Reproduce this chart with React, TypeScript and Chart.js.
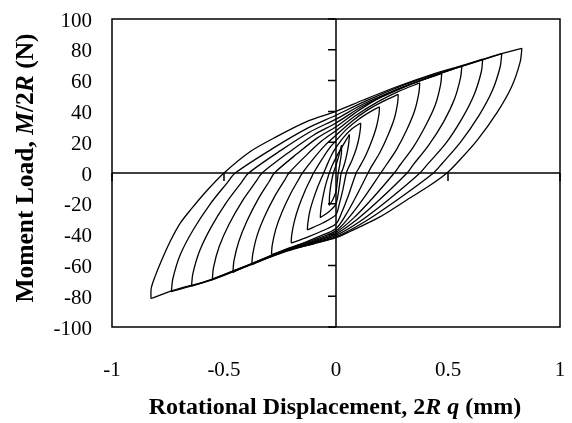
import { useEffect, useRef } from "react";
import { Chart, registerables } from "chart.js";

Chart.register(...registerables);

const FONT = "'Liberation Serif', 'Times New Roman', serif";

const xTicks = [-1, -0.5, 0, 0.5, 1];
const yTicks = [-100, -80, -60, -40, -20, 0, 20, 40, 60, 80, 100];

// Hysteresis loops, outer (1) to inner (11). Each loop: unloading branch (peak -> negative peak)
// and loading branch (negative peak -> peak). Values: [rotational displacement (mm), moment load (N)]
const loop1Unload = [[0.83, 81], [0.822, 72], [0.784, 56], [0.718, 39], [0.629, 21], [0.54, 6.5], [0.495, 0], [0.42, -8], [0.316, -17.5], [0.196, -28.5], [0.062, -38], [0, -42], [-0.1, -46], [-0.22, -50.5], [-0.376, -59], [-0.55, -69], [-0.733, -76.5], [-0.826, -81.5]];
const loop1Load = [[-0.826, -81.5], [-0.825, -75], [-0.808, -67.3], [-0.778, -56.5], [-0.741, -44.6], [-0.696, -32.7], [-0.644, -23], [-0.58, -12], [-0.5, 0], [-0.384, 13.8], [-0.265, 23.6], [-0.131, 33.3], [0, 40], [0.122, 47.4], [0.271, 56], [0.42, 63.6], [0.568, 70], [0.717, 76.6], [0.83, 81]];

const loop2Unload = [[0.74, 77.5], [0.733, 69], [0.698, 53.5], [0.638, 37.2], [0.557, 20.2], [0.474, 6.2], [0.435, 0], [0.274, -17.4], [0.13, -31.5], [0, -41.5], [-0.1, -45.8], [-0.22, -50.8], [-0.376, -59.3], [-0.55, -69.2], [-0.735, -77]];
const loop2Load = [[-0.735, -77], [-0.728, -68.5], [-0.695, -53], [-0.638, -37], [-0.561, -20], [-0.485, -6.2], [-0.45, 0], [-0.284, 15.8], [-0.135, 28.5], [0, 37.5], [0.122, 46], [0.271, 55.3], [0.42, 63], [0.568, 69.5], [0.74, 77.5]];

const loop3Unload = [[0.655, 74], [0.649, 65.9], [0.617, 51], [0.563, 35.5], [0.49, 19.2], [0.41, 5.9], [0.375, 0], [0.237, -17], [0.113, -30.8], [0, -40.5], [-0.1, -45.3], [-0.22, -50.3], [-0.376, -59], [-0.55, -68.8], [-0.645, -73.5]];
const loop3Load = [[-0.645, -73.5], [-0.639, -65.4], [-0.609, -50.7], [-0.558, -35.3], [-0.489, -19.1], [-0.421, -5.9], [-0.39, 0], [-0.246, 14.7], [-0.117, 26.6], [0, 35], [0.122, 44.8], [0.271, 54.2], [0.42, 62.3], [0.545, 68.5], [0.655, 74]];

const loop4Unload = [[0.562, 69.5], [0.556, 61.9], [0.529, 48], [0.481, 33.4], [0.414, 18.1], [0.346, 5.6], [0.317, 0], [0.2, -16.6], [0.095, -30], [0, -39.5], [-0.1, -44.8], [-0.22, -50], [-0.376, -58.8], [-0.552, -69]];
const loop4Load = [[-0.552, -69], [-0.547, -61.4], [-0.521, -47.6], [-0.477, -33.1], [-0.417, -17.9], [-0.357, -5.5], [-0.33, 0], [-0.208, 13.7], [-0.099, 24.7], [0, 32.5], [0.12, 43.5], [0.26, 53], [0.4, 61.2], [0.562, 69.5]];

const loop5Unload = [[0.472, 64.5], [0.467, 57.4], [0.444, 44.5], [0.401, 31], [0.345, 16.8], [0.286, 5.2], [0.26, 0], [0.164, -16.2], [0.078, -29.3], [0, -38.5], [-0.1, -44.3], [-0.22, -49.8], [-0.34, -56.5], [-0.46, -64.5]];
const loop5Load = [[-0.46, -64.5], [-0.456, -57.4], [-0.434, -44.5], [-0.397, -31], [-0.347, -16.8], [-0.297, -5.2], [-0.275, 0], [-0.173, 12.6], [-0.083, 22.8], [0, 30], [0.1, 40.5], [0.2, 49.3], [0.33, 57.6], [0.472, 64.5]];

const loop6Unload = [[0.374, 58.5], [0.37, 52], [0.351, 40.4], [0.316, 28.1], [0.27, 15.2], [0.222, 4.7], [0.2, 0], [0.126, -15.8], [0.06, -28.5], [0, -37.5], [-0.1, -43.5], [-0.22, -49.3], [-0.376, -59.5]];
const loop6Load = [[-0.376, -59.5], [-0.372, -53], [-0.353, -41], [-0.32, -28.6], [-0.275, -15.5], [-0.23, -4.8], [-0.21, 0], [-0.132, 11.6], [-0.063, 20.9], [0, 27.5], [0.09, 37.5], [0.19, 46.5], [0.28, 53], [0.374, 58.5]];

const loop7Unload = [[0.278, 51], [0.275, 45.4], [0.26, 35.2], [0.232, 24.5], [0.196, 13.3], [0.158, 4.1], [0.143, 0], [0.09, -15.1], [0.043, -27.4], [0, -36], [-0.08, -41.5], [-0.18, -47.5], [-0.288, -53]];
const loop7Load = [[-0.288, -53], [-0.285, -47.2], [-0.269, -36.6], [-0.241, -25.4], [-0.204, -13.8], [-0.167, -4.2], [-0.15, 0], [-0.095, 10.3], [-0.045, 18.6], [0, 24.5], [0.07, 33.5], [0.14, 40.8], [0.21, 46.5], [0.278, 51]];

const loop8Unload = [[0.194, 43], [0.192, 38.3], [0.18, 29.7], [0.159, 20.6], [0.132, 11.2], [0.103, 3.4], [0.09, 0], [0.057, -13.9], [0.027, -25.1], [0, -33], [-0.06, -37.5], [-0.13, -41.8], [-0.2, -45.5]];
const loop8Load = [[-0.2, -45.5], [-0.198, -40.5], [-0.186, -31.4], [-0.166, -21.8], [-0.139, -11.8], [-0.112, -3.6], [-0.1, 0], [-0.063, 8.8], [-0.03, 16], [0, 21], [0.05, 28.8], [0.1, 34.8], [0.15, 39.5], [0.194, 43]];

const loop9Unload = [[0.11, 32.5], [0.109, 28.9], [0.102, 22.4], [0.09, 15.6], [0.072, 8.5], [0.053, 2.6], [0.046, 0], [0.03, -11.3], [0.014, -20.5], [0, -27], [-0.06, -32.5], [-0.128, -37]];
const loop9Load = [[-0.128, -37], [-0.126, -33], [-0.118, -25.5], [-0.103, -17.8], [-0.083, -9.6], [-0.064, -3], [-0.055, 0], [-0.035, 6.9], [-0.017, 12.5], [0, 16.5], [0.03, 22.5], [0.07, 28.5], [0.11, 32.5]];

const loop10Unload = [[0.06, 25], [0.059, 22.3], [0.055, 17.3], [0.048, 12], [0.039, 6.5], [0.029, 2], [0.023, 0], [0.015, -8.4], [0, -20], [-0.03, -25], [-0.07, -29]];
const loop10Load = [[-0.07, -29], [-0.069, -25.8], [-0.064, -20], [-0.056, -13.9], [-0.046, -7.5], [-0.035, -2.3], [-0.03, 0], [-0.019, 4.2], [0, 10], [0.025, 16.5], [0.06, 25]];

const loop11Unload = [[0.025, 18], [0.024, 12.4], [0.02, 8.6], [0.016, 4.7], [0.01, 0], [0.006, -5], [0, -12], [-0.015, -17.5], [-0.03, -21]];
const loop11Load = [[-0.03, -21], [-0.029, -15], [-0.025, -10], [-0.02, -5.5], [-0.012, 0], [-0.007, 2.1], [0, 5], [0.012, 11], [0.025, 18]];

const branches = [
  loop1Unload, loop1Load, loop2Unload, loop2Load, loop3Unload, loop3Load,
  loop4Unload, loop4Load, loop5Unload, loop5Load, loop6Unload, loop6Load,
  loop7Unload, loop7Load, loop8Unload, loop8Load, loop9Unload, loop9Load,
  loop10Unload, loop10Load, loop11Unload, loop11Load,
];

type Part = { t: string; style: string };
const xTitleParts: Part[] = [
  { t: "Rotational Displacement, 2", style: "bold" },
  { t: "R", style: "italic bold" },
  { t: " ", style: "bold" },
  { t: "q", style: "italic bold" },
  { t: " (mm)", style: "bold" },
];
const yTitleParts: Part[] = [
  { t: "Moment Load, ", style: "bold" },
  { t: "M", style: "italic bold" },
  { t: "/2", style: "bold" },
  { t: "R", style: "italic bold" },
  { t: " (N)", style: "bold" },
];

function drawParts(ctx: CanvasRenderingContext2D, parts: Part[], size: number) {
  let total = 0;
  const widths = parts.map((p) => {
    ctx.font = `${p.style} ${size}px ${FONT}`;
    const w = ctx.measureText(p.t).width;
    total += w;
    return w;
  });
  let x = -total / 2;
  ctx.textAlign = "left";
  ctx.textBaseline = "alphabetic";
  parts.forEach((p, i) => {
    ctx.font = `${p.style} ${size}px ${FONT}`;
    ctx.fillText(p.t, x, 0);
    x += widths[i];
  });
}

const decorPlugin = {
  id: "decor",
  afterDraw(chart: any) {
    const { ctx, chartArea } = chart;
    const { left, right, top, bottom } = chartArea;
    const xs = chart.scales.x;
    const ys = chart.scales.y;
    ctx.save();
    ctx.strokeStyle = "#000";
    ctx.lineWidth = 1.5;
    ctx.strokeRect(left, top, right - left, bottom - top);
    const x0 = xs.getPixelForValue(0);
    const y0 = ys.getPixelForValue(0);
    ctx.beginPath();
    ctx.moveTo(left, y0);
    ctx.lineTo(right, y0);
    ctx.moveTo(x0, top);
    ctx.lineTo(x0, bottom);
    xTicks.forEach((v) => {
      const px = xs.getPixelForValue(v);
      ctx.moveTo(px, y0);
      ctx.lineTo(px, y0 + 8);
    });
    yTicks.forEach((v) => {
      const py = ys.getPixelForValue(v);
      ctx.moveTo(x0 - 8, py);
      ctx.lineTo(x0, py);
    });
    ctx.stroke();

    ctx.fillStyle = "#000";
    ctx.save();
    ctx.translate(335, 414);
    drawParts(ctx, xTitleParts, 24);
    ctx.restore();

    ctx.save();
    ctx.translate(33, 168);
    ctx.rotate(-Math.PI / 2);
    drawParts(ctx, yTitleParts, 25.5);
    ctx.restore();
    ctx.restore();
  },
};

export default function App() {
  const ref = useRef<HTMLCanvasElement | null>(null);
  useEffect(() => {
    if (!ref.current) return;
    const chart = new Chart(ref.current, {
      type: "scatter",
      data: {
        datasets: branches.map((b) => ({
          data: b.map(([x, y]) => ({ x, y })),
          showLine: true,
          borderColor: "#000",
          borderWidth: 1.3,
          pointRadius: 0,
          tension: 0.3,
          fill: false,
        })),
      },
      options: {
        animation: false,
        responsive: false,
        maintainAspectRatio: false,
        devicePixelRatio: 1,
        layout: { padding: { top: 19, right: 12, left: 0, bottom: 0 } },
        plugins: { legend: { display: false }, tooltip: { enabled: false } },
        scales: {
          x: {
            type: "linear",
            min: -1,
            max: 1,
            grid: { display: false, drawTicks: false },
            border: { display: false },
            ticks: {
              autoSkip: false,
              maxRotation: 0,
              padding: 31,
              color: "#000",
              font: { family: FONT, size: 21 },
              callback: (v: any) => String(v),
            },
            afterBuildTicks: (s: any) => {
              s.ticks = xTicks.map((v) => ({ value: v }));
            },
            afterFit: (s: any) => {
              s.height = 96;
              s.paddingLeft = 0;
              s.paddingRight = 0;
            },
          },
          y: {
            type: "linear",
            min: -100,
            max: 100,
            grid: { display: false, drawTicks: false },
            border: { display: false },
            ticks: {
              autoSkip: false,
              padding: 20,
              labelOffset: 2,
              color: "#000",
              font: { family: FONT, size: 21 },
              callback: (v: any) => String(v),
            },
            afterBuildTicks: (s: any) => {
              s.ticks = yTicks.map((v) => ({ value: v }));
            },
            afterFit: (s: any) => {
              s.width = 112;
              s.paddingTop = 0;
              s.paddingBottom = 0;
            },
          },
        },
      },
      plugins: [decorPlugin],
    });
    return () => chart.destroy();
  }, []);
  return (
    <div style={{ position: "fixed", left: 0, top: 0, width: 572, height: 423, background: "#fff" }}>
      <canvas ref={ref} width={572} height={423} style={{ display: "block" }} />
    </div>
  );
}
